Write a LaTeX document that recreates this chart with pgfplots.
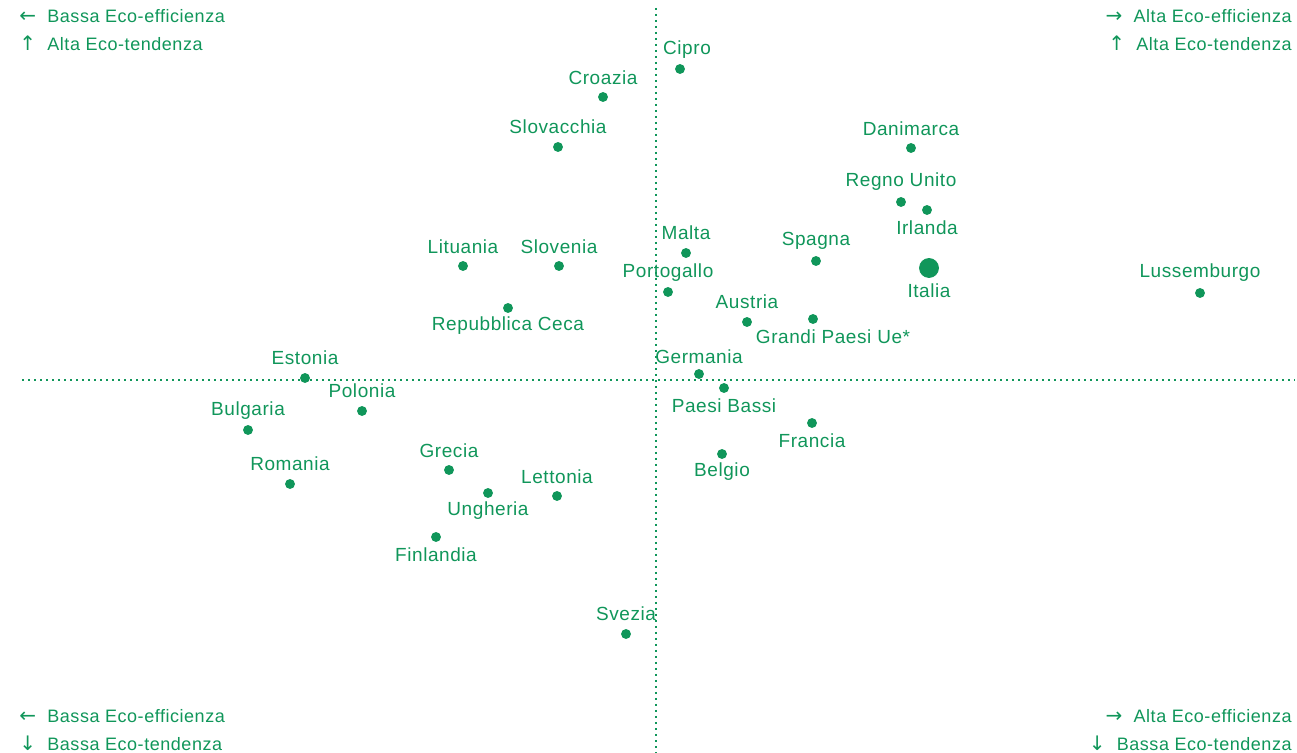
\documentclass[border=0pt]{standalone}
\usepackage{pgfplots}
\pgfplotsset{compat=1.18}
\usepackage{pgfplotstable}
\usepackage{fontspec}
\setmainfont{Liberation Sans}[LetterSpace=3]
\newfontfamily\arrowfont{DejaVu Sans}
\definecolor{eco}{RGB}{16,150,90}

\pgfplotstableread{
x y dx dy name
680 69 7 19 Cipro
603 97 0 19 Croazia
558 147 0 20 Slovacchia
911 148 0 19 Danimarca
901 202 0 20 {Regno Unito}
927 210 0 -18 Irlanda
1200 293 0 20 Lussemburgo
463 266 0 19 Lituania
559 266 0 19 Slovenia
686 253 0 20 Malta
816 261 0 20 Spagna
668 292 0 19 Portogallo
747 322 0 20 Austria
508 308 0 -18 {Repubblica Ceca}
813 319 20 -18 {Grandi Paesi Ue*}
305 378 0 20 Estonia
699 374 0 17 Germania
362 411 0 20 Polonia
724 388 0 -18 {Paesi Bassi}
248 430 0 19 Bulgaria
812 423 0 -18 Francia
722 454 0 -18 Belgio
290 484 0 20 Romania
449 470 0 19 Grecia
557 496 0 19 Lettonia
488 493 0 -18 Ungheria
436 537 0 -18 Finlandia
626 634 0 20 Svezia
}\countries

\pgfplotstableread{
x y dx dy name
929 268 0 -23 Italia
}\italy

\newcommand{\arr}[1]{\makebox[14pt][l]{\arrowfont\fontsize{10}{10}\selectfont #1}}

\begin{document}
\begin{tikzpicture}[font=\fontsize{9}{10}\selectfont]
\begin{axis}[
  scale only axis, width=648.5pt, height=376.5pt,
  xmin=0, xmax=1297, ymin=0, ymax=753,
  hide axis, clip=false,
  y dir=reverse,
]
\addplot[eco, line width=1pt, dash pattern=on 1pt off 2pt] coordinates {(656,8) (656,753)};
\addplot[eco, line width=1pt, dash pattern=on 1pt off 2pt] coordinates {(22,380) (1295,380)};

\addplot[only marks, mark=*, mark size=2.25pt, color=eco,
  point meta=explicit symbolic,
  visualization depends on={\thisrow{dx}\as\dx},
  visualization depends on={\thisrow{dy}\as\dy},
  nodes near coords,
  every node near coord/.append style={anchor=center, text=eco, font=\fontsize{9.5}{10}\selectfont, xshift=0.5*\dx pt, yshift=0.5*\dy pt},
] table[x=x,y=y,meta=name] {\countries};

\addplot[only marks, mark=*, mark size=4.75pt, color=eco,
  point meta=explicit symbolic,
  visualization depends on={\thisrow{dx}\as\dx},
  visualization depends on={\thisrow{dy}\as\dy},
  nodes near coords,
  every node near coord/.append style={anchor=center, text=eco, font=\fontsize{9.5}{10}\selectfont, xshift=0.5*\dx pt, yshift=0.5*\dy pt},
] table[x=x,y=y,meta=name] {\italy};

\node[anchor=west, text=eco, inner sep=0pt] at (axis cs:19,16) {\arr{←}Bassa Eco-efficienza};
\node[anchor=west, text=eco, inner sep=0pt] at (axis cs:19,43) {\arr{↑}Alta Eco-tendenza};
\node[anchor=east, text=eco, inner sep=0pt] at (axis cs:1292,16) {\arr{→}Alta Eco-efficienza};
\node[anchor=east, text=eco, inner sep=0pt] at (axis cs:1292,43) {\arr{↑}Alta Eco-tendenza};
\node[anchor=west, text=eco, inner sep=0pt] at (axis cs:19,716) {\arr{←}Bassa Eco-efficienza};
\node[anchor=west, text=eco, inner sep=0pt] at (axis cs:19,743) {\arr{↓}Bassa Eco-tendenza};
\node[anchor=east, text=eco, inner sep=0pt] at (axis cs:1292,716) {\arr{→}Alta Eco-efficienza};
\node[anchor=east, text=eco, inner sep=0pt] at (axis cs:1292,743) {\arr{↓}Bassa Eco-tendenza};
\end{axis}
\pgfresetboundingbox
\path (0,0) rectangle (648.5pt,376.5pt);
\end{tikzpicture}
\end{document}
